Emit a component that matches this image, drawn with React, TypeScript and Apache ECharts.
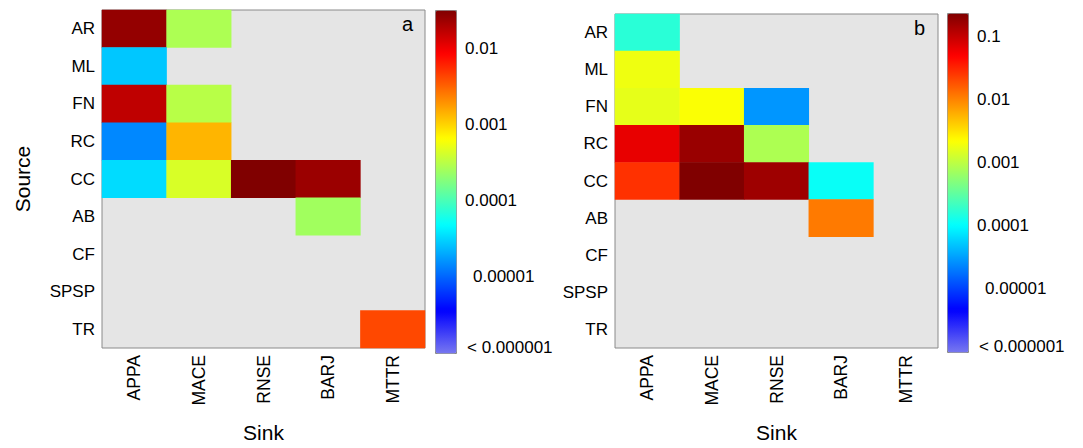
import React, { useEffect, useRef } from 'react';
import * as echarts from 'echarts';

const sources = ['AR', 'ML', 'FN', 'RC', 'CC', 'AB', 'CF', 'SPSP', 'TR'];
const sinks = ['APPA', 'MACE', 'RNSE', 'BARJ', 'MTTR'];

// rows = sources, columns = sinks; null = no link
const panelA: (number | null)[][] = [
  [0.0257, 0.00028, null, null, null],
  [0.0000275, null, null, null, null],
  [0.0166, 0.000316, null, null, null],
  [0.0000145, 0.00138, null, null, null],
  [0.0000339, 0.000437, 0.032, 0.024, null],
  [null, null, null, 0.00025, null],
  [null, null, null, null, null],
  [null, null, null, null, null],
  [null, null, null, null, 0.00417],
];

const panelB: (number | null)[][] = [
  [0.00017, null, null, null, null],
  [0.0019, null, null, null, null],
  [0.0017, 0.0022, 0.0000288, null, null],
  [0.0676, 0.178, 0.00085, null, null],
  [0.0282, 0.24, 0.166, 0.000115, null],
  [null, null, null, 0.0117, null],
  [null, null, null, null, null],
  [null, null, null, null, null],
  [null, null, null, null, null],
];

const rangeA = [1e-6, 0.0316];
const rangeB = [1e-6, 0.24];
const tickValuesA = [1e-6, 1e-5, 1e-4, 1e-3, 1e-2];
const tickValuesB = [1e-6, 1e-5, 1e-4, 1e-3, 1e-2, 1e-1];
const tickLabels: Record<string, string> = {
  '-6': '< 0.000001',
  '-5': '0.00001',
  '-4': '0.0001',
  '-3': '0.001',
  '-2': '0.01',
  '-1': '0.1',
};
const jetColors = ['#7878f0', '#0000ff', '#0080ff', '#00ffff', '#80ff80', '#ffff00', '#ff8000', '#ff0000', '#800000'];

const FONT = 'Liberation Sans';

function toHeat(m: (number | null)[][]) {
  const out: [number, number, number][] = [];
  m.forEach((row, r) =>
    row.forEach((v, c) => {
      if (v != null) out.push([c, r, Math.log10(v)]);
    })
  );
  return out;
}

function cbLabel(v: number) {
  const k = String(Math.round(v));
  const t = tickLabels[k];
  if (k === '-6') return '{low|' + t + '}';
  if (k === '-5') return '{sp|' + t + '}';
  return '{n|' + t + '}';
}

export default function App() {
  const ref = useRef<HTMLDivElement>(null);
  useEffect(() => {
    if (!ref.current) return;
    const chart = echarts.init(ref.current, undefined, { renderer: 'svg' });
    const labelStyle = { fontFamily: FONT, fontSize: 17, color: '#000' };
    const rich = {
      n: { fontFamily: FONT, fontSize: 17, color: '#000' },
      sp: { fontFamily: FONT, fontSize: 17, color: '#000', padding: [0, 0, 0, 8] },
      low: { fontFamily: FONT, fontSize: 17, color: '#000', padding: [0, 0, 12, 2] },
    };
    const heatXAxis = (gi: number) => ({
      type: 'category',
      gridIndex: gi,
      data: sinks,
      name: 'Sink',
      nameLocation: 'middle',
      nameGap: 74,
      nameTextStyle: { fontFamily: FONT, fontSize: 21, color: '#000' },
      axisLine: { show: false },
      axisTick: { show: false },
      axisLabel: { ...labelStyle, fontSize: 17.5, rotate: 90, margin: 7 },
      splitLine: { show: false },
    });
    const heatYAxis = (gi: number, withName: boolean) => ({
      type: 'category',
      gridIndex: gi,
      data: sources,
      inverse: true,
      name: withName ? 'Source' : '',
      nameLocation: 'middle',
      nameRotate: 90,
      nameGap: 69,
      nameTextStyle: { fontFamily: FONT, fontSize: 21, color: '#000' },
      axisLine: { show: false },
      axisTick: { show: false },
      axisLabel: { ...labelStyle, margin: 7 },
      splitLine: { show: false },
    });
    const cbYAxis = (gi: number, range: number[], ticks: number[]) => {
      const logs = ticks.map((t) => Math.log10(t));
      return {
        type: 'value',
        gridIndex: gi,
        position: 'right',
        min: Math.log10(range[0]),
        max: Math.log10(range[1]),
        axisLine: { show: false },
        splitLine: { show: false },
        axisTick: { show: true, length: 3, inside: false, lineStyle: { color: '#888' }, customValues: logs.slice(1) },
        axisLabel: { show: true, margin: 9, customValues: logs, formatter: cbLabel, rich },
      };
    };
    const option = {
      animation: false,
      textStyle: { fontFamily: FONT },
      title: [
        { text: 'a', left: 402, top: 14, padding: 0, textStyle: { fontFamily: FONT, fontSize: 20, fontWeight: 'normal', color: '#000' } },
        { text: 'b', left: 914, top: 18, padding: 0, textStyle: { fontFamily: FONT, fontSize: 20, fontWeight: 'normal', color: '#000' } },
      ],
      grid: [
        { left: 102, top: 10, width: 323, height: 343, show: true, backgroundColor: '#e5e5e5', borderColor: '#8a8a8a', borderWidth: 1 },
        { left: 615, top: 14, width: 323, height: 338, show: true, backgroundColor: '#e5e5e5', borderColor: '#8a8a8a', borderWidth: 1 },
        { left: 435, top: 10, width: 21, height: 343, show: false },
        { left: 947, top: 13, width: 21, height: 339, show: false },
      ],
      xAxis: [
        heatXAxis(0),
        heatXAxis(1),
        { type: 'value', gridIndex: 2, show: false, min: 0, max: 1 },
        { type: 'value', gridIndex: 3, show: false, min: 0, max: 1 },
      ],
      yAxis: [
        heatYAxis(0, true),
        heatYAxis(1, false),
        cbYAxis(2, rangeA, tickValuesA),
        cbYAxis(3, rangeB, tickValuesB),
      ],
      visualMap: [
        {
          type: 'continuous',
          seriesIndex: 0,
          min: Math.log10(rangeA[0]),
          max: Math.log10(rangeA[1]),
          inRange: { color: jetColors },
          orient: 'vertical',
          left: 435,
          top: 10,
          itemWidth: 21,
          itemHeight: 343,
          padding: 0,
          calculable: false,
          hoverLink: false,
          borderColor: '#888',
          borderWidth: 1,
        },
        {
          type: 'continuous',
          seriesIndex: 1,
          min: Math.log10(rangeB[0]),
          max: Math.log10(rangeB[1]),
          inRange: { color: jetColors },
          orient: 'vertical',
          left: 947,
          top: 13,
          itemWidth: 21,
          itemHeight: 339,
          padding: 0,
          calculable: false,
          hoverLink: false,
          borderColor: '#888',
          borderWidth: 1,
        },
      ],
      series: [
        {
          type: 'heatmap',
          xAxisIndex: 0,
          yAxisIndex: 0,
          data: toHeat(panelA),
          itemStyle: { borderWidth: 0 },
          emphasis: { disabled: true },
        },
        {
          type: 'heatmap',
          xAxisIndex: 1,
          yAxisIndex: 1,
          data: toHeat(panelB),
          itemStyle: { borderWidth: 0 },
          emphasis: { disabled: true },
        },
      ],
    };
    chart.setOption(option as any);
    return () => chart.dispose();
  }, []);
  return (
    <div
      ref={ref}
      style={{ position: 'fixed', left: 0, top: 0, width: 1083, height: 448, background: '#fff' }}
    />
  );
}
